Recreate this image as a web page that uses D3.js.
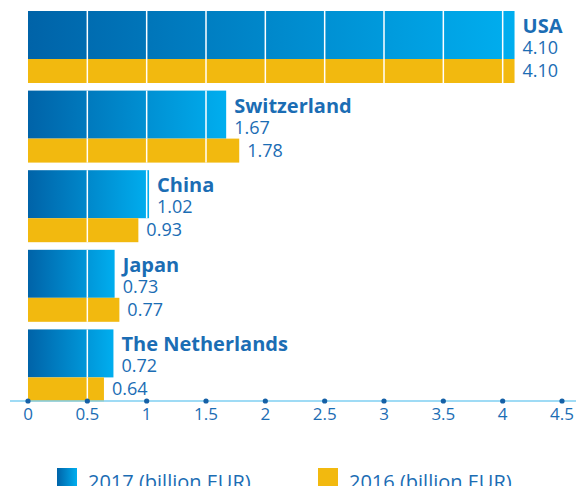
<!DOCTYPE html>
<html lang="en">
<head>
  <meta charset="UTF-8">
  <title>Top markets 2017 vs 2016</title>
  <script src="https://d3js.org/d3.v7.min.js"></script>
  <style>
    body { margin: 0; background: #fff; overflow: hidden; }
    svg { display: block; font-family: "Open Sans", sans-serif; }
  </style>
</head>
<body>
  <svg width="579" height="486"></svg>

  <script>
    const countries = ['USA', 'Switzerland', 'China', 'Japan', 'The Netherlands'];
    const values2017 = [4.10, 1.67, 1.02, 0.73, 0.72];
    const values2016 = [4.10, 1.78, 0.93, 0.77, 0.64];
    const ticks = [0, 0.5, 1, 1.5, 2, 2.5, 3, 3.5, 4, 4.5];
    const legendLabels = ['2017 (billion EUR)', '2016 (billion EUR)'];

    const svg = d3.select('svg');
    const blueDark = '#0063a8', blueLight = '#00aeef';
    const yellow = '#f2b90f';
    const textBlue = '#1b6db4';

    const x = d3.scaleLinear().domain([0, 4.5]).range([28, 562]);
    const y = d3.scaleBand().domain(countries).range([11, 409]).paddingInner(0);

    // gradient for the 2017 bars
    const grad = svg.append('defs').append('linearGradient')
      .attr('id', 'blueGrad').attr('x1', 0).attr('x2', 1).attr('y1', 0).attr('y2', 0);
    grad.append('stop').attr('offset', 0).attr('stop-color', blueDark);
    grad.append('stop').attr('offset', 1).attr('stop-color', blueLight);

    const blueH = 48, yellowH = 24;

    const groups = svg.append('g').selectAll('g')
      .data(countries)
      .join('g')
      .attr('transform', d => `translate(0,${y(d)})`);

    groups.append('rect')
      .attr('x', x(0)).attr('y', 0)
      .attr('width', (d, i) => x(values2017[i]) - x(0))
      .attr('height', blueH)
      .attr('fill', 'url(#blueGrad)');

    groups.append('rect')
      .attr('x', x(0)).attr('y', blueH)
      .attr('width', (d, i) => x(values2016[i]) - x(0))
      .attr('height', yellowH)
      .attr('fill', yellow);

    // white grid lines inside the bars
    groups.each(function (d, i) {
      const g = d3.select(this);
      ticks.filter(t => t > 0).forEach(t => {
        if (t < values2017[i]) {
          g.append('line').attr('x1', x(t)).attr('x2', x(t))
            .attr('y1', 0).attr('y2', blueH)
            .attr('stroke', '#fff').attr('stroke-width', 1.5);
        }
        if (t < values2016[i]) {
          g.append('line').attr('x1', x(t)).attr('x2', x(t))
            .attr('y1', blueH).attr('y2', blueH + yellowH)
            .attr('stroke', '#fff').attr('stroke-width', 1.5);
        }
      });
    });

    // labels
    groups.append('text')
      .attr('x', (d, i) => x(values2017[i]) + 8)
      .attr('y', 22)
      .attr('font-size', 20).attr('font-weight', 'bold')
      .attr('fill', textBlue)
      .text(d => d);

    groups.append('text')
      .attr('x', (d, i) => x(values2017[i]) + 8)
      .attr('y', 43)
      .attr('font-size', 18)
      .attr('fill', textBlue)
      .text((d, i) => values2017[i].toFixed(2));

    groups.append('text')
      .attr('x', (d, i) => x(values2016[i]) + 8)
      .attr('y', 66)
      .attr('font-size', 18)
      .attr('fill', textBlue)
      .text((d, i) => values2016[i].toFixed(2));

    // axis
    const axisY = 401;
    const axis = svg.append('g');
    axis.append('line')
      .attr('x1', 10).attr('x2', 576)
      .attr('y1', axisY).attr('y2', axisY)
      .attr('stroke', '#7fcff2').attr('stroke-width', 1.5);
    axis.selectAll('circle')
      .data(ticks)
      .join('circle')
      .attr('cx', d => x(d)).attr('cy', axisY).attr('r', 2.6)
      .attr('fill', '#1560a6');
    axis.selectAll('text')
      .data(ticks)
      .join('text')
      .attr('x', d => x(d)).attr('y', axisY + 19)
      .attr('text-anchor', 'middle')
      .attr('font-size', 17)
      .attr('fill', textBlue)
      .text(d => d);

    // legend
    const legend = svg.append('g');
    const legendX = [57, 318];
    const legendFill = ['url(#blueGrad)', yellow];
    legendLabels.forEach((lab, i) => {
      legend.append('rect')
        .attr('x', legendX[i]).attr('y', 468)
        .attr('width', 20).attr('height', 20)
        .attr('fill', legendFill[i]);
      legend.append('text')
        .attr('x', legendX[i] + 31).attr('y', 489)
        .attr('font-size', 20)
        .attr('fill', textBlue)
        .text(lab);
    });
  </script>
</body>
</html>
